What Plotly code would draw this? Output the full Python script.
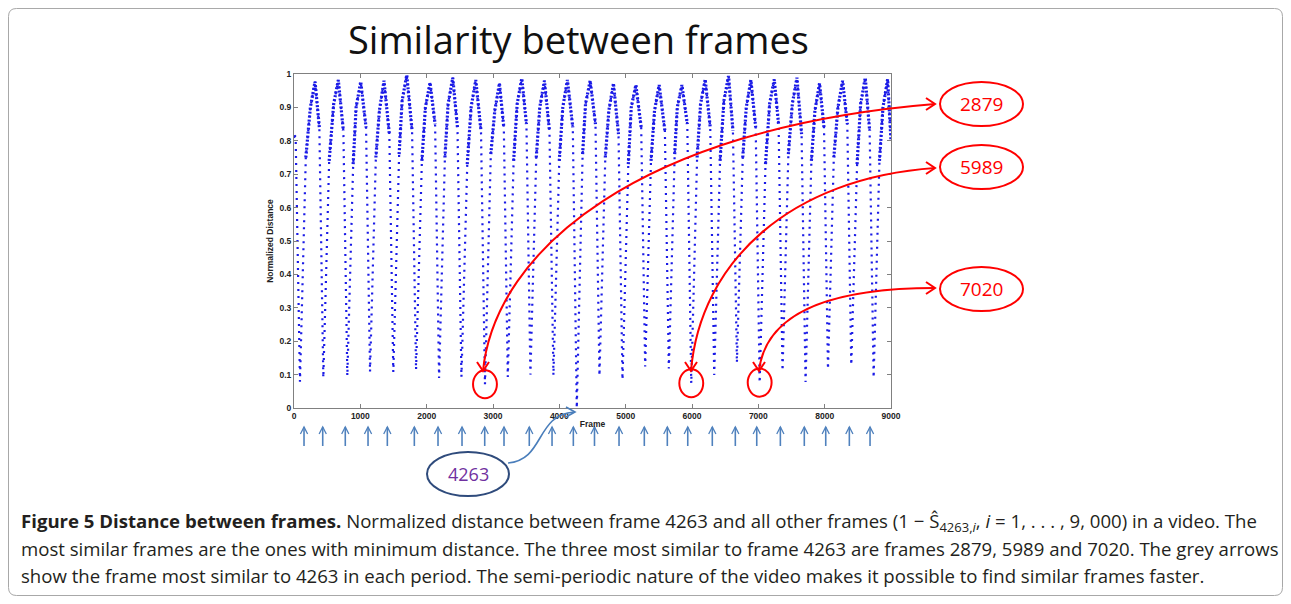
import plotly.graph_objects as go

# ---------------- data ----------------
start_frame = [0, 25]
start_val = [0.815, 0.81]

min_frame = [90, 442, 804, 1146, 1497, 1840, 2187, 2524, 2879, 3223, 3564, 3911, 4263,
             4605, 4952, 5294, 5651, 5989, 6335, 6677, 7020, 7365, 7712, 8050, 8401, 8738]
min_val = [0.079, 0.091, 0.096, 0.109, 0.108, 0.115, 0.090, 0.093, 0.071, 0.093, 0.100, 0.098, 0.0,
           0.097, 0.085, 0.124, 0.118, 0.074, 0.099, 0.136, 0.076, 0.112, 0.078, 0.117, 0.129, 0.091]

rise_low_frame = [178, 530, 892, 1234, 1585, 1928, 2275, 2612, 2967, 3311, 3652, 3999, 4351,
                  4693, 5040, 5382, 5739, 6077, 6423, 6765, 7108, 7453, 7800, 8138, 8489, 8826]
rise_low_val = [0.75, 0.74, 0.73, 0.75, 0.76, 0.74, 0.75, 0.73, 0.76, 0.74, 0.75, 0.74, 0.76,
                0.75, 0.73, 0.74, 0.76, 0.75, 0.74, 0.75, 0.73, 0.76, 0.74, 0.75, 0.73, 0.74]

rise_high_frame = [247, 598, 936, 1287, 1630, 1981, 2323, 2670, 3027, 3364, 3705, 4052, 4395,
                   4746, 5084, 5435, 5778, 6129, 6481, 6818, 7170, 7512, 7853, 8200, 8542, 8879]
rise_high_val = [0.90, 0.91, 0.90, 0.89, 0.92, 0.90, 0.91, 0.90, 0.89, 0.91, 0.90, 0.90, 0.91,
                 0.89, 0.90, 0.89, 0.90, 0.91, 0.92, 0.90, 0.91, 0.91, 0.89, 0.90, 0.91, 0.90]

peak_frame = [317, 668, 1006, 1357, 1700, 2051, 2393, 2740, 3097, 3434, 3775, 4122, 4465,
              4816, 5154, 5505, 5848, 6199, 6551, 6888, 7240, 7582, 7923, 8270, 8612, 8949]
peak_val = [0.977, 0.982, 0.977, 0.980, 0.997, 0.974, 0.989, 0.982, 0.972, 0.987, 0.980, 0.982, 0.980,
            0.972, 0.967, 0.967, 0.967, 0.984, 0.994, 0.982, 0.984, 0.989, 0.972, 0.980, 0.989, 0.984]

fall_frame = [382, 744, 1086, 1437, 1780, 2127, 2464, 2819, 3163, 3504, 3851, 4203, 4545,
              4892, 5234, 5591, 5929, 6275, 6617, 6960, 7305, 7652, 7990, 8341, 8678]
fall_val = [0.84, 0.83, 0.84, 0.82, 0.83, 0.85, 0.84, 0.83, 0.84, 0.85, 0.83, 0.84, 0.85,
            0.82, 0.84, 0.83, 0.85, 0.84, 0.83, 0.84, 0.85, 0.82, 0.84, 0.85, 0.83]

end_frame = [9000]
end_val = [0.80]

query_frame = 4263
similar_frames = [2879, 5989, 7020]
period_arrow_frames = [151, 433, 773, 1116, 1407, 1814, 2171, 2533, 2875, 3166, 3547, 3890, 4211,
                       4530, 4900, 5281, 5628, 5936, 6306, 6653, 6976, 7332, 7693, 8016, 8372, 8684]

x_ticks = [0, 1000, 2000, 3000, 4000, 5000, 6000, 7000, 8000, 9000]
y_ticks = [0, 0.1, 0.2, 0.3, 0.4, 0.5, 0.6, 0.7, 0.8, 0.9, 1]
y_tick_text = ["0", "0.1", "0.2", "0.3", "0.4", "0.5", "0.6", "0.7", "0.8", "0.9", "1"]

title_text = "Similarity between frames"
caption_lines = [
    "<b>Figure 5 Distance between frames.</b> Normalized distance between frame 4263 and all other frames "
    "(1 − Ŝ<sub>4263,<i>i</i></sub>, <i>i</i> = 1, . . . , 9, 000) in a video. The",
    "most similar frames are the ones with minimum distance. The three most similar to frame 4263 are "
    "frames 2879, 5989 and 7020. The grey arrows",
    "show the frame most similar to 4263 in each period. The semi-periodic nature of the video makes it "
    "possible to find similar frames faster.",
]

# ---------------- layout geometry ----------------
OFF = 8                           # browser body margin
W, H = 1291 - 2 * OFF, 604 - 2 * OFF
L, R, T, B = 294, 891, 74, 408    # plot area in reference pixels


def px(x):
    return (x - L) / (R - L)


def py(y):
    return (B - y) / (B - T)


def P(x, y):
    return f"{px(x):.5f},{py(y):.5f}"


# ---------------- build path of points ----------------
xs = list(start_frame) + [min_frame[0]]
ys = list(start_val) + [min_val[0]]
for i in range(len(min_frame)):
    xs += [rise_low_frame[i], rise_high_frame[i], peak_frame[i]]
    ys += [rise_low_val[i], rise_high_val[i], peak_val[i]]
    if i < len(fall_frame):
        xs += [fall_frame[i], min_frame[i + 1]]
        ys += [fall_val[i], min_val[i + 1]]
xs += end_frame
ys += end_val

# dense upper parts of each period (same read points, subset)
ux, uy = list(start_frame), list(start_val)
ux.append(None)
uy.append(None)
for i in range(len(min_frame)):
    ux += [rise_low_frame[i], rise_high_frame[i], peak_frame[i]]
    uy += [rise_low_val[i], rise_high_val[i], peak_val[i]]
    if i < len(fall_frame):
        ux.append(fall_frame[i])
        uy.append(fall_val[i])
    else:
        ux += end_frame
        uy += end_val
    ux.append(None)
    uy.append(None)

fig = go.Figure()
fig.add_trace(go.Scatter(
    x=xs, y=ys, mode="lines",
    line=dict(color="#1a1ae6", width=2.2, dash="2px,5px"),
    hoverinfo="skip", showlegend=False,
))
fig.add_trace(go.Scatter(
    x=ux, y=uy, mode="lines", connectgaps=False,
    line=dict(color="#1a1ae6", width=3.2, dash="2px,2px"),
    hoverinfo="skip", showlegend=False,
))

shapes = []
annotations = []

# border with rounded corners
x0, x1, y0, y1, r = 8.5, 1282.5, 8.5, 595.5, 8
border = (f"M {P(x0 + r, y0)} L {P(x1 - r, y0)} Q {P(x1, y0)} {P(x1, y0 + r)} "
          f"L {P(x1, y1 - r)} Q {P(x1, y1)} {P(x1 - r, y1)} L {P(x0 + r, y1)} "
          f"Q {P(x0, y1)} {P(x0, y1 - r)} L {P(x0, y0 + r)} Q {P(x0, y0)} {P(x0 + r, y0)} Z")
shapes.append(dict(type="path", xref="paper", yref="paper", path=border,
                   line=dict(color="#a8a8a8", width=1)))

# small red circles around the most similar frames
for f in similar_frames:
    v = min_val[min_frame.index(f)]
    shapes.append(dict(type="circle", xref="x", yref="y",
                       x0=f - 180, x1=f + 180, y0=v - 0.042, y1=v + 0.042,
                       line=dict(color="#ff0000", width=2)))

# red label ellipses + curved double arrows
red_labels = [
    ("2879", 104, (483, 371), (495, 250), (640, 128), (935, 104)),
    ("5989", 167, (691, 371), (700, 262), (790, 178), (935, 168)),
    ("7020", 289, (759, 371), (765, 318), (820, 288), (935, 288)),
]
for text, cy, p0, p1, p2, p3 in red_labels:
    shapes.append(dict(type="circle", xref="paper", yref="paper",
                       x0=px(940), x1=px(1023), y0=py(cy - 22), y1=py(cy + 22),
                       line=dict(color="#ff0000", width=2)))
    annotations.append(dict(xref="paper", yref="paper", x=px(981), y=py(cy), text=text,
                            xanchor="center", yanchor="middle", showarrow=False,
                            font=dict(family="Open Sans", size=19, color="#ff0000")))
    shapes.append(dict(type="path", xref="paper", yref="paper",
                       path=f"M {P(*p0)} C {P(*p1)} {P(*p2)} {P(*p3)}",
                       line=dict(color="#ff0000", width=2)))
    tx, ty = p0
    shapes.append(dict(type="path", xref="paper", yref="paper",
                       path=f"M {P(tx - 6, ty - 9)} L {P(tx, ty)} L {P(tx + 6, ty - 9)}",
                       line=dict(color="#ff0000", width=2)))
    ex, ey = p3
    shapes.append(dict(type="path", xref="paper", yref="paper",
                       path=f"M {P(ex - 9, ey - 6)} L {P(ex, ey)} L {P(ex - 9, ey + 6)}",
                       line=dict(color="#ff0000", width=2)))

# blue period arrows below the axis
half = 3.6 * 9000 / (R - L)
for f in period_arrow_frames:
    shapes.append(dict(type="line", xref="x", yref="paper", x0=f, x1=f,
                       y0=py(446), y1=py(427), line=dict(color="#4f81bd", width=1.6)))
    shapes.append(dict(type="path", xref="x", yref="paper",
                       path=f"M {f - half},{py(434):.5f} L {f},{py(427):.5f} L {f + half},{py(434):.5f}",
                       line=dict(color="#4f81bd", width=1.3)))

# 4263 ellipse and curved arrow
shapes.append(dict(type="circle", xref="paper", yref="paper",
                   x0=px(427), x1=px(509), y0=py(452), y1=py(496),
                   line=dict(color="#2f4b7c", width=2)))
annotations.append(dict(xref="paper", yref="paper", x=px(468), y=py(474), text=str(query_frame),
                        xanchor="center", yanchor="middle", showarrow=False,
                        font=dict(family="Open Sans", size=18, color="#7030a0")))
shapes.append(dict(type="path", xref="paper", yref="paper",
                   path=f"M {P(508, 463)} C {P(545, 460)} {P(535, 415)} {P(574, 412)}",
                   line=dict(color="#4a7ebb", width=1.6)))
shapes.append(dict(type="path", xref="paper", yref="paper",
                   path=f"M {P(566, 407)} L {P(575, 412)} L {P(566, 417)}",
                   line=dict(color="#4a7ebb", width=1.6)))

# title
annotations.append(dict(xref="paper", yref="paper", x=px(578), y=py(39), text=title_text,
                        showarrow=False, xanchor="center", yanchor="middle",
                        font=dict(family="Open Sans", size=38, color="#111111")))

# caption
for i, line in enumerate(caption_lines):
    annotations.append(dict(xref="paper", yref="paper", x=px(19), y=py(522 + 26.5 * i), text=line,
                            showarrow=False, xanchor="left", yanchor="middle", align="left",
                            font=dict(family="Open Sans", size=18.6, color="#231f20")))

axis_font = dict(family="Liberation Sans", size=8.5, color="#222222", weight="bold")

fig.update_layout(
    width=W, height=H,
    margin=dict(l=L - OFF, r=W - (R - OFF), t=T - OFF, b=H - (B - OFF), pad=0),
    paper_bgcolor="white", plot_bgcolor="white",
    shapes=shapes, annotations=annotations,
    xaxis=dict(range=[0, 9000], tickvals=x_ticks, ticks="inside", ticklen=4, tickcolor="#808080",
               showline=True, linecolor="#808080", linewidth=1, mirror="ticks", showgrid=False,
               zeroline=False, tickfont=axis_font,
               title=dict(text="Frame", font=axis_font, standoff=0)),
    yaxis=dict(range=[0, 1], tickvals=y_ticks, ticktext=y_tick_text, ticks="inside", ticklen=4,
               tickcolor="#808080", showline=True, linecolor="#808080", linewidth=1, mirror="ticks",
               showgrid=False, zeroline=False, tickfont=axis_font,
               title=dict(text="Normalized Distance", font=axis_font, standoff=4)),
)

fig.write_html("out.html")
